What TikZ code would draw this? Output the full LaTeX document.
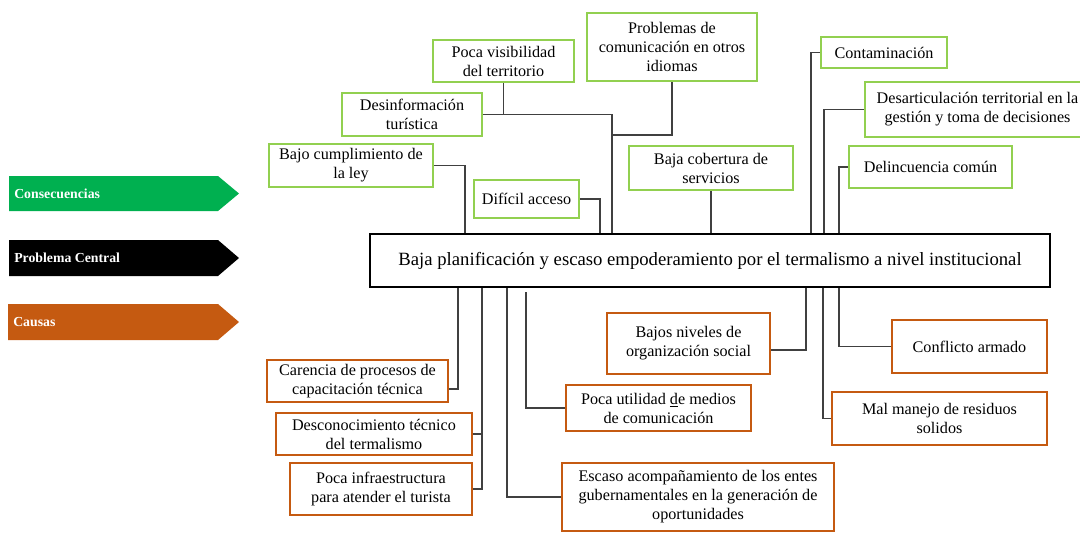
\documentclass[tikz,border=0pt]{standalone}
\usepackage{fontspec}
\setmainfont{Liberation Serif}
\usepackage{tikz}
\usepackage{xcolor}
\definecolor{consgreen}{RGB}{0, 176, 80}
\definecolor{boxgreen}{RGB}{146, 208, 80}
\definecolor{causeorange}{RGB}{197, 90, 17}
\definecolor{linegray}{RGB}{64, 64, 64}

\begin{document}
\begin{tikzpicture}[x=0.025cm, y=-0.025cm,
    txt/.style={font=\fontsize{11.5}{13.5}\selectfont, align=center, inner sep=0pt},
    conbox/.style={txt, draw=boxgreen, line width=1.5pt},
    causebox/.style={txt, draw=causeorange, line width=1.5pt},
    conn/.style={draw=linegray, line width=0.8pt},
    tag/.style={font=\fontsize{9.8}{11}\selectfont\bfseries, text=white, anchor=west, inner sep=0pt}]
    \useasboundingbox (0,0) rectangle (1080,540);
    \clip (0,0) rectangle (1080,540);

    % Tags on the left
    \fill[consgreen] (9,176) -- (218,176) -- (239,193.5) -- (218,211) -- (9,211) -- cycle;
    \node[tag] (tcons) at (14,193.5) {Consecuencias};
    \fill[black] (9,240) -- (218,240) -- (239,258) -- (218,276) -- (9,276) -- cycle;
    \node[tag] (tcentral) at (14,258) {Problema Central};
    \fill[causeorange] (8,304) -- (218,304) -- (239,322) -- (218,340) -- (8,340) -- cycle;
    \node[tag] (tcausas) at (13,322) {Causas};

    % Central problem
    \node[draw=black, line width=1.5pt, minimum width=17cm, minimum height=1.325cm,
        font=\fontsize{13.3}{15}\selectfont, inner sep=0pt] (central) at (710,260.5)
        {Baja planificación y escaso empoderamiento por el termalismo a nivel institucional};

    % Consequences (green)
    \node[conbox, minimum width=3.525cm, minimum height=1.05cm] (visib) at (503.5,61) {Poca visibilidad\\del territorio};
    \node[conbox, minimum width=4.25cm, minimum height=1.7cm] (idiomas) at (672,47) {Problemas de\\comunicación en otros\\idiomas};
    \node[conbox, minimum width=3.5cm, minimum height=1.075cm] (desinf) at (412,114.5) {Desinformación\\turística};
    \node[conbox, minimum width=4.1cm, minimum height=1.075cm] (cumpl) at (351,165.5) {Bajo cumplimiento de\\la ley};
    \node[conbox, minimum width=2.625cm, minimum height=0.95cm] (acceso) at (526.5,199) {Difícil acceso};
    \node[conbox, minimum width=4.1cm, minimum height=1.1cm] (cobert) at (711,168) {Baja cobertura de\\servicios};
    \node[conbox, minimum width=3.15cm, minimum height=0.775cm] (contam) at (884,52.5) {Contaminación};
    \node[conbox, minimum width=5.625cm, minimum height=1.375cm] (desart) at (977.5,109.5) {Desarticulación territorial en la\\gestión y toma de decisiones};
    \node[conbox, minimum width=4.075cm, minimum height=1.05cm] (delinc) at (930.5,167) {Delincuencia común};

    % Causes (orange)
    \node[causebox, minimum width=4.525cm, minimum height=1.05cm] (capac) at (357.5,381) {Carencia de procesos de\\capacitación técnica};
    \node[causebox, minimum width=4.9cm, minimum height=1.05cm] (descon) at (374,434) {Desconocimiento técnico\\del termalismo};
    \node[causebox, minimum width=4.55cm, minimum height=1.3cm] (infra) at (381,489) {Poca infraestructura\\para atender el turista};
    \node[causebox, minimum width=4.075cm, minimum height=1.525cm] (organiz) at (688.5,343.5) {Bajos niveles de\\organización social};
    \node[causebox, minimum width=3.875cm, minimum height=1.325cm] (conflic) at (969.5,346.5) {Conflicto armado};
    \node[causebox, minimum width=4.625cm, minimum height=1.15cm] (medios) at (658.5,408) {Poca utilidad \underline{d}e medios\\de comunicación};
    \node[causebox, minimum width=5.375cm, minimum height=1.325cm] (residuos) at (939.5,418.5) {Mal manejo de residuos\\solidos};
    \node[causebox, minimum width=6.8cm, minimum height=1.7cm] (acompan) at (698,497) {Escaso acompañamiento de los entes\\gubernamentales en la generación de\\oportunidades};

    % Lines to the consequences
    \coordinate (jidiom) at (612,135);
    \draw[conn] (cumpl.east) -| (465,0 |- central.north);
    \draw[conn] (acceso.east) -| (600,0 |- central.north);
    \draw[conn] (desinf.east) -| (612,0 |- central.north);
    \draw[conn] (visib.south) -- (visib.south |- desinf.east);
    \draw[conn] (idiomas.south) |- (jidiom);
    \draw[conn] (cobert.south) -- (cobert.south |- central.north);
    \draw[conn] (contam.west) -| (811,0 |- central.north);
    \draw[conn] (desart.west) -| (824,0 |- central.north);
    \draw[conn] (delinc.west) -| (839,0 |- central.north);

    % Lines to the causes
    \draw[conn] (458,0 |- central.south) |- (capac.east |- 0,389);
    \draw[conn] (482,0 |- central.south) |- (infra.east);
    \draw[conn] (descon.east) -- (482,0 |- descon.east);
    \draw[conn] (507,0 |- central.south) |- (acompan.west);
    \draw[conn] (526,292) |- (medios.west);
    \draw[conn] (806,0 |- central.south) |- (organiz.east |- 0,350);
    \draw[conn] (823,0 |- central.south) |- (residuos.west);
    \draw[conn] (839,0 |- central.south) |- (conflic.west);
\end{tikzpicture}
\end{document}
